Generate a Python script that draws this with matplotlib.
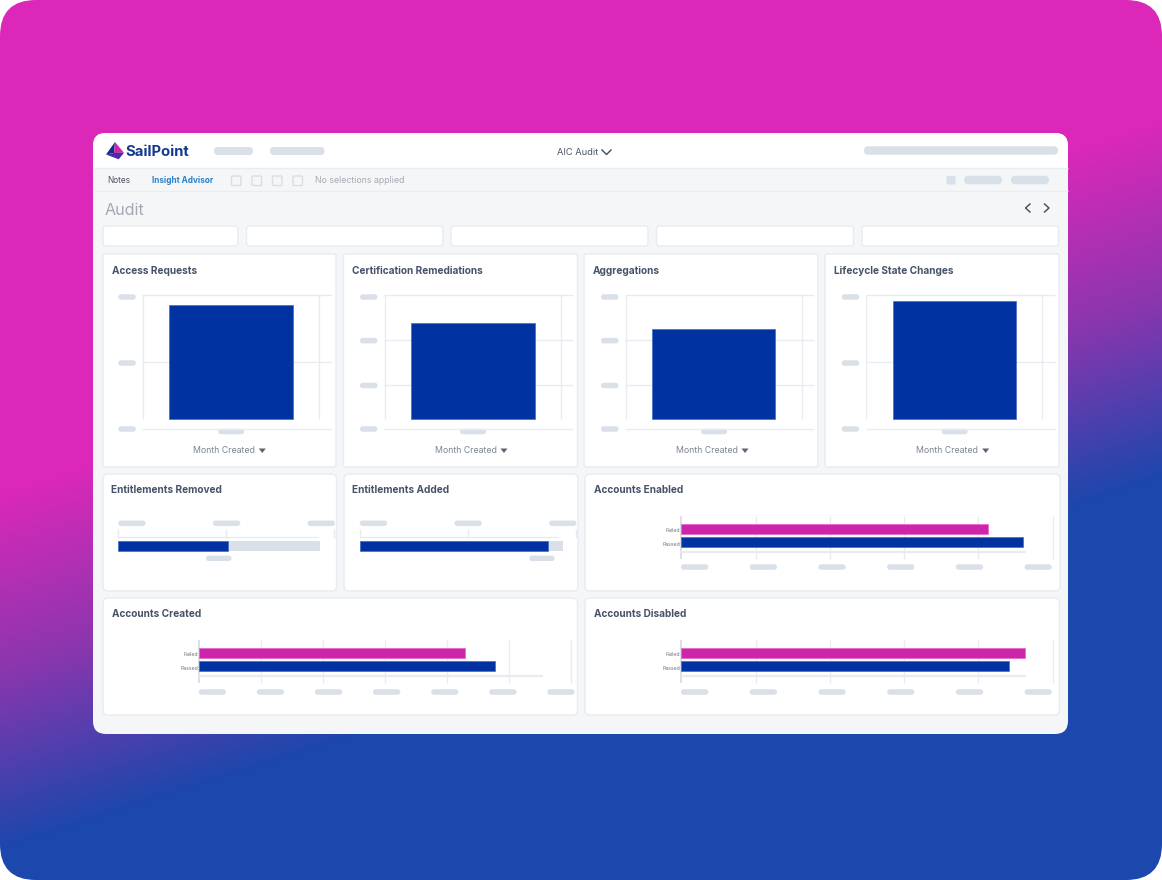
import numpy as np
import matplotlib
matplotlib.use('Agg')
import matplotlib.pyplot as plt
from matplotlib.colors import LinearSegmentedColormap
from matplotlib.patches import FancyBboxPatch, Polygon, Rectangle
from matplotlib.transforms import ScaledTranslation

W, H = 1162, 880

# column panels
col_titles = ['Access Requests', 'Certification Remediations', 'Aggregations', 'Lifecycle State Changes']
col_values = [114, 96, 90, 118]
col_months = ['Month Created'] * 4

# single stacked bars
ent_titles = ['Entitlements Removed', 'Entitlements Added']
ent_done = [1.02, 1.74]
ent_total = [1.87, 1.88]

# failed / passed panels
acc_titles = ['Accounts Enabled', 'Accounts Created', 'Accounts Disabled']
acc_labels = ['Failed', 'Passed']
acc_failed = [4.13, 4.29, 4.63]
acc_passed = [4.60, 4.77, 4.41]

BLUE = '#0033a1'
PINK = '#cb25aa'
GRID = '#e8ebf2'
PILL = '#d9e0e8'
BORDER = '#e8ebf0'
TITLE = '#465268'
FONT = 'Inter'

fig = plt.figure(figsize=(W / 100, H / 100), dpi=100, facecolor='white')

bg = fig.add_axes([0, 0, 1, 1])
bg.set_xlim(0, W)
bg.set_ylim(H, 0)
bg.axis('off')


def box(x0, y0, x1, y1, r=3, fc='white', ec=BORDER, lw=1.0, z=2):
    p = FancyBboxPatch((x0 + r, y0 + r), x1 - x0 - 2 * r, y1 - y0 - 2 * r,
                       boxstyle=f'round,pad={r},rounding_size={r}',
                       fc=fc, ec=ec, lw=lw, zorder=z)
    bg.add_patch(p)
    return p


def pill(x0, x1, y, h=5.5):
    box(x0, y - h / 2, x1, y + h / 2, r=h / 2 - 0.01, fc=PILL, ec='none', lw=0, z=4)


def px_axes(x0, y0, x1, y1):
    ax = fig.add_axes([x0 / W, 1 - y1 / H, (x1 - x0) / W, (y1 - y0) / H])
    ax.patch.set_alpha(0)
    for s in ax.spines.values():
        s.set_visible(False)
    ax.tick_params(length=0, labelbottom=False, labelleft=False)
    return ax


def panel_title(x, y, s):
    bg.text(x, y, s, fontsize=7.25, color=TITLE, fontweight='bold', family=FONT, va='center', zorder=5)


# page gradient, tilted so the right side turns blue earlier
yy, xx = np.mgrid[0:H, 0:W]
t = np.clip((yy + 0.32 * xx - 490) / 360, 0, 1)
cmap = LinearSegmentedColormap.from_list('page', ['#dc28b9', '#8b36ae', '#1c47ac'])
im = bg.imshow(t, cmap=cmap, vmin=0, vmax=1, extent=(0, W, H, 0), aspect='auto', zorder=0)
clip = box(0, 0, W, H, r=36, fc='none', ec='none', lw=0, z=0)
im.set_clip_path(clip)
bg.set_xlim(0, W)
bg.set_ylim(H, 0)

# main card
box(93, 133, 1068, 734, r=13, fc='#f5f6f8', ec='none', lw=0, z=1)
head = Rectangle((93, 133), 975, 35, fc='white', ec='none', zorder=1.5)
bg.add_patch(head)
head.set_clip_path(box(93, 133, 1068, 734, r=13, fc='none', ec='none', lw=0, z=1))
bg.plot([93.5, 1067.5], [168.5, 168.5], color='#e9ecf0', lw=1, zorder=2, solid_capstyle='butt')
bg.plot([93.5, 1067.5], [191, 191], color='#e9ecf0', lw=1, zorder=2, solid_capstyle='butt')

# logo
apex, left, right, low, mid = [115, 142], [106, 154.5], [124, 152.8], [118.7, 159.3], [114, 153]
bg.add_patch(Polygon([apex, left, mid], fc='#0b2f8f', ec='none', zorder=3))
bg.add_patch(Polygon([apex, mid, right], fc='#cc27ab', ec='none', zorder=3))
bg.add_patch(Polygon([left, mid, right, low], fc='#4a2aa5', ec='none', zorder=3))
bg.text(125, 152, 'SailPoint', fontsize=10.7, color='#123a8e', fontweight='bold', family=FONT,
        va='center', ha='left', zorder=3)

# header
pill(214, 253, 151, 8)
pill(270, 324.5, 151, 8)
pill(864, 1058, 150.5, 8.5)
bg.text(557, 152.3, 'AIC Audit', fontsize=6.7, color='#4b5565', family=FONT, va='center', ha='left', zorder=3)
bg.plot([602, 606.5, 611], [150, 154.5, 150], color='#3d4a5f', lw=1.0, zorder=3)

# toolbar
bg.text(107, 180.8, 'Notes', fontsize=6.0, color='#47505e', family=FONT, va='center', zorder=3)
bg.text(152, 180.8, 'Insight Advisor', fontsize=5.9, color='#2a7fc9', family=FONT, fontweight='bold',
        va='center', zorder=3)
for x in [231.5, 252, 272.5, 293]:
    box(x, 176, x + 9.5, 185.5, r=1, fc='#f5f6f8', ec='#d9dee5', lw=1, z=3)
bg.text(315, 180.8, 'No selections applied', fontsize=6.3, color='#a3aab4', family=FONT, va='center', zorder=3)
box(946.5, 176, 955.5, 184.5, r=1, fc=PILL, ec='none', lw=0, z=3)
pill(964, 1002, 180, 8.5)
pill(1011, 1049, 180, 8.5)

# title row
bg.text(105, 210.5, 'Audit', fontsize=11.6, color='#a3a9b1', family=FONT, va='center', zorder=3)
bg.plot([1030, 1025.5, 1030], [204, 208, 212], color='#3d4a5f', lw=1.0, zorder=3)
bg.plot([1044.5, 1049, 1044.5], [204, 208, 212], color='#3d4a5f', lw=1.0, zorder=3)

# filter boxes
for x0, x1 in [(103, 238), (246.5, 443), (451, 648), (656.5, 853.5), (862, 1058.5)]:
    box(x0, 226, x1, 246, r=3)

# column panels
col_boxes = [(103, 336), (343.5, 577.5), (584, 818), (825, 1059)]
col_axes = [(142.3, 331.5, 319.3), (384, 573, 561), (625, 814, 801.5), (865.7, 1055, 1042)]
col_ticks = [3, 4, 4, 3]
col_bar = [(169.3, 293), (411, 534.7), (651.7, 775.3), (892.5, 1016)]
for i in range(4):
    x0, x1 = col_boxes[i]
    box(x0, 254, x1, 467, r=2)
    panel_title(x0 + 8.6, 270.5, col_titles[i])
    ax0, ax1, vl = col_axes[i]
    ax = px_axes(ax0, 295, ax1, 429.5)
    # zero sits above the axis line, as on the screenshot
    ax.set_ylim(-10, 124.5)
    ax.set_xlim(ax0, ax1)
    ticks = np.linspace(-10, 124.5, col_ticks[i])
    ax.hlines(ticks, ax0, ax1, color=GRID, lw=1, zorder=1, clip_on=False)
    ax.vlines([ax0 + 0.5, vl], 0, 124.5, color=GRID, lw=1, zorder=1)
    b0, b1 = col_bar[i]
    ax.bar([(b0 + b1) / 2], [col_values[i]], width=b1 - b0, color=BLUE, edgecolor='#3f6cc9', lw=0.5, zorder=3)
    # placeholder tick labels
    for tk in ticks:
        yp = 419.5 - tk
        pill(ax0 - 24, ax0 - 6.5, min(yp + (2 if tk == 124.5 else 0.8), 429), 5.5)
    pill(ax0 + 76, ax0 + 102, 431.5, 5.5)
    bg.text(ax0 + 81.5, 450.5, col_months[i], fontsize=6.3, color='#7d8592', family=FONT, ha='center', va='center',
            zorder=5)
    bg.add_patch(Polygon([[ax0 + 116.5, 448.5], [ax0 + 123.5, 448.5], [ax0 + 120, 453]], fc='#5c6470', ec='none',
                         zorder=5))

# entitlement panels
ent_boxes = [(103, 336.5), (344, 578)]
ent_x = [118.3, 359.7]
ent_under = [(206, 231.5), (529.3, 554.7)]
ent_line = [1.85, 1.84]
for i in range(2):
    x0, x1 = ent_boxes[i]
    box(x0, 474, x1, 591, r=5)
    panel_title(x0 + 8.3, 489.8, ent_titles[i])
    a0 = ent_x[i]
    ax = px_axes(a0, 529.3, a0 + 216, 551.5)
    ax.set_xlim(0, 2)
    ax.set_ylim(5.8, -16.4)
    ax.vlines([0, 1, 2], -16.4, -7.7, color=GRID, lw=1, zorder=1, clip_on=False)
    ax.hlines([-8.4], 0, ent_line[i], color=GRID, lw=1, zorder=1)
    ax.barh([0], [ent_total[i]], height=10, color=PILL, zorder=2)
    ax.barh([0], [ent_done[i]], height=10, color=BLUE, edgecolor='#3f6cc9', lw=0.5, zorder=3)
    for k in range(3):
        pill(a0 + 94.7 * k, a0 + 94.7 * k + 27.3, 523.3, 5.5)
    pill(ent_under[i][0], ent_under[i][1], 558.3, 5.5)

# failed / passed panels
acc_boxes = [(585, 1060, 474, 591), (103, 577.5, 598, 715), (585, 1059.5, 598, 715)]
acc_axes = [(681.3, 1052.7, 515.7, 559), (199.3, 571.3, 640, 683), (681.3, 1052.7, 640, 683)]
acc_steps = [5, 6, 5]
acc_line = [4.635, 5.55, 4.635]
acc_pills = [(681, 68.7, 567), (198.7, 58.1, 692), (681, 68.7, 692)]
for i in range(3):
    x0, x1, y0, y1 = acc_boxes[i]
    box(x0, y0, x1, y1, r=5)
    panel_title(x0 + 8.5, y0 + 15.8, acc_titles[i])
    a0, a1, b0, b1 = acc_axes[i]
    ax = px_axes(a0, b0, a1, b1)
    n = acc_steps[i]
    ax.set_xlim(0, n)
    ax.set_ylim(2.267, -0.989)
    ax.vlines(np.arange(1, n + 1), -0.989, 2.267, color=GRID, lw=1, zorder=1, clip_on=False)
    ax.vlines([0], -0.989, 2.267, color='#d5dbe4', lw=1.2, zorder=1, clip_on=False)
    ax.hlines([1.72], 0, acc_line[i], color=GRID, lw=1.6, zorder=1)
    ax.barh([0], [acc_failed[i]], height=0.73, color=PINK, edgecolor='#ee5fce', lw=0.5, zorder=3)
    ax.barh([1], [acc_passed[i]], height=0.73, color=BLUE, edgecolor='#3f6cc9', lw=0.5, zorder=3)
    ax.set_yticks([0, 1])
    ax.set_yticklabels(acc_labels, fontsize=3.7, color='#6b7380', family=FONT)
    ax.tick_params(axis='y', labelleft=True, pad=0.8)
    # labels sit a little under the bar centres
    for lab in ax.get_yticklabels():
        lab.set_transform(lab.get_transform() + ScaledTranslation(0, -1.4 / 100, fig.dpi_scale_trans))
    px0, step, py = acc_pills[i]
    for k in range(n + 1):
        pill(px0 + step * k, px0 + step * k + 27.3, py, 5.5)

fig.savefig('out.png', dpi=100)
